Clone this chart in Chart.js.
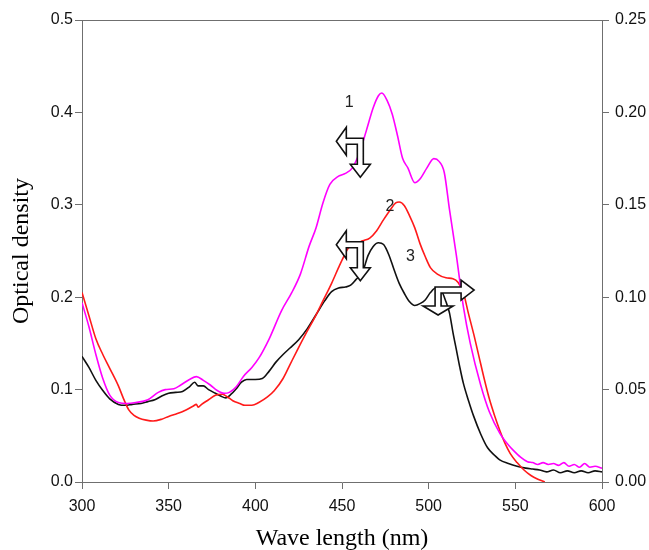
<!DOCTYPE html>
<html>
<head>
<meta charset="utf-8">
<script src="https://cdn.jsdelivr.net/npm/chart.js@4.4.1/dist/chart.umd.min.js"></script>
<style>
  html, body { margin: 0; padding: 0; background: #ffffff; }
  #wrap { width: 649px; height: 550px; }
</style>
</head>
<body>
<div id="wrap"><canvas id="c" width="649" height="550"></canvas></div>
<script>
// ---- data ----
const xTicks = [300, 350, 400, 450, 500, 550, 600];
const yTicksLeft = [0.0, 0.1, 0.2, 0.3, 0.4, 0.5];
const yTicksRight = [0.00, 0.05, 0.10, 0.15, 0.20, 0.25];

const curveLabels = ['1', '2', '3'];

// curve 1 (magenta)
const wl1 = [300,304,308,312,316,321,326,331,338,344,348,353,357,362,366,370,374,378,382,385,389,393,398,402,408,415,421,426,431,435,439,443,448,452,456,460,464,468,471,473,476,479,482,485,488,492,495,499,503,506,509,512,516,520,524,530,535,541,546,549,553,557,560,563,566,569,572,575,578,581,584,587,590,593,596,600];
const od1 = [0.194,0.168,0.138,0.112,0.094,0.086,0.085,0.086,0.089,0.097,0.100,0.101,0.105,0.111,0.114,0.110,0.105,0.099,0.096,0.097,0.103,0.114,0.124,0.134,0.155,0.185,0.205,0.225,0.255,0.275,0.302,0.322,0.331,0.334,0.340,0.356,0.380,0.405,0.418,0.421,0.413,0.398,0.375,0.350,0.340,0.324,0.328,0.340,0.350,0.347,0.335,0.295,0.245,0.190,0.150,0.105,0.076,0.053,0.040,0.034,0.027,0.022,0.021,0.019,0.021,0.019,0.020,0.018,0.021,0.017,0.019,0.016,0.020,0.016,0.017,0.015];

// curve 2 (red)
const wl2 = [300,304,308,312,316,321,324,327,330,333,337,341,346,350,355,360,364,366,367,369,373,377,381,384,387,391,394,398,402,407,411,416,420,424,429,434,439,444,448,451,454,458,462,466,470,474,478,481,483,486,489,492,495,498,501,505,510,514,517,520,523,526,529,532,535,538,541,544,547,551,555,559,563,567];
const od2 = [0.205,0.180,0.155,0.138,0.123,0.104,0.090,0.078,0.072,0.069,0.067,0.066,0.068,0.071,0.074,0.078,0.082,0.084,0.081,0.084,0.089,0.094,0.095,0.092,0.088,0.085,0.083,0.083,0.086,0.092,0.099,0.112,0.127,0.142,0.160,0.177,0.196,0.215,0.232,0.244,0.254,0.258,0.261,0.264,0.272,0.284,0.295,0.302,0.303,0.299,0.288,0.275,0.258,0.244,0.232,0.225,0.221,0.220,0.216,0.205,0.182,0.160,0.136,0.112,0.090,0.072,0.056,0.042,0.031,0.021,0.013,0.007,0.003,0.000];

// curve 3 (black)
const wl3 = [300,304,308,312,316,321,325,329,334,338,342,346,350,354,358,362,365,367,370,373,377,380,383,386,389,392,395,400,404,408,412,416,420,425,430,435,440,444,448,452,455,458,462,465,468,471,474,477,480,483,486,489,492,495,498,501,504,507,510,512,514,516,518,520,523,526,530,534,538,541,546,551,556,560,564,568,572,576,580,584,588,592,596,600];
const od3 = [0.136,0.124,0.110,0.099,0.090,0.084,0.083,0.084,0.085,0.087,0.089,0.093,0.096,0.097,0.098,0.103,0.108,0.104,0.104,0.100,0.096,0.093,0.091,0.095,0.101,0.108,0.111,0.111,0.112,0.120,0.130,0.138,0.145,0.154,0.166,0.181,0.196,0.206,0.210,0.211,0.213,0.219,0.228,0.245,0.255,0.259,0.257,0.246,0.230,0.215,0.204,0.195,0.191,0.193,0.197,0.205,0.210,0.208,0.195,0.183,0.162,0.143,0.124,0.107,0.088,0.071,0.052,0.037,0.029,0.024,0.020,0.017,0.015,0.014,0.013,0.011,0.013,0.010,0.012,0.010,0.012,0.010,0.012,0.011];

// annotation anchors (data coordinates): number labels and arrow corners
const labelPos = [[454.2, 0.4105], [477.7, 0.2984], [489.5, 0.2435]];
const arrowPos = [[462.3, 0.372], [462.3, 0.260], [503.7, 0.211]];

// ---- build ----
const toPts = (xs, ys) => xs.map((x, i) => ({ x: x, y: ys[i] }));
const AX = '#6f6f6f';
const tickFont = { family: "'Liberation Sans', Arial, sans-serif", size: 16 };
const titleFont = { family: "'Liberation Serif', 'Times New Roman', serif", size: 24 };

const arrowShapes = [
  { dir: -1, t: 6, vLen: 26, vHalf: 10, vHead: 13, hLen: 17, hHalf: 14, hHead: 10 },
  { dir: -1, t: 6, vLen: 26, vHalf: 10, vHead: 13, hLen: 17, hHalf: 14, hHead: 10 },
  { dir: 1,  t: 6, vLen: 19, vHalf: 15, vHead: 9,  hLen: 26, hHalf: 10, hHead: 13 }
];

function drawLArrow(ctx, cx, cy, s) {
  const pts = [
    [0, 0], [0, s.vLen], [s.t / 2 - s.vHalf, s.vLen], [s.t / 2, s.vLen + s.vHead],
    [s.t / 2 + s.vHalf, s.vLen], [s.t, s.vLen], [s.t, s.t], [s.hLen, s.t],
    [s.hLen, s.t / 2 + s.hHalf], [s.hLen + s.hHead, s.t / 2], [s.hLen, s.t / 2 - s.hHalf], [s.hLen, 0]
  ];
  ctx.beginPath();
  pts.forEach((p, i) => {
    const x = cx + s.dir * p[0], y = cy + p[1];
    if (i === 0) ctx.moveTo(x, y); else ctx.lineTo(x, y);
  });
  ctx.closePath();
  ctx.fillStyle = '#ffffff';
  ctx.fill();
  ctx.lineWidth = 1.6;
  ctx.lineJoin = 'miter';
  ctx.strokeStyle = '#111111';
  ctx.stroke();
}

const annotPlugin = {
  id: 'annot',
  afterDatasetsDraw(chart) {
    const { ctx, chartArea, scales } = chart;
    ctx.save();
    // top frame line
    ctx.strokeStyle = AX;
    ctx.lineWidth = 1;
    ctx.beginPath();
    ctx.moveTo(chartArea.left, Math.round(chartArea.top) + 0.5);
    ctx.lineTo(chartArea.right, Math.round(chartArea.top) + 0.5);
    ctx.stroke();
    // arrows
    arrowPos.forEach((p, i) => {
      drawLArrow(ctx, scales.x.getPixelForValue(p[0]), scales.y.getPixelForValue(p[1]), arrowShapes[i]);
    });
    // curve numbers
    ctx.fillStyle = '#222222';
    ctx.font = "16px 'Liberation Sans', Arial, sans-serif";
    ctx.textAlign = 'center';
    ctx.textBaseline = 'middle';
    labelPos.forEach((p, i) => {
      ctx.fillText(curveLabels[i], scales.x.getPixelForValue(p[0]), scales.y.getPixelForValue(p[1]));
    });
    ctx.restore();
  }
};

const common = { pointRadius: 0, borderWidth: 1.6, fill: false, cubicInterpolationMode: 'monotone', yAxisID: 'y' };

new Chart(document.getElementById('c'), {
  type: 'line',
  data: {
    datasets: [
      Object.assign({ label: curveLabels[0], data: toPts(wl1, od1), borderColor: '#ff00ff' }, common),
      Object.assign({ label: curveLabels[1], data: toPts(wl2, od2), borderColor: '#ff1a1a' }, common),
      Object.assign({ label: curveLabels[2], data: toPts(wl3, od3), borderColor: '#111111' }, common)
    ]
  },
  options: {
    responsive: false,
    animation: false,
    layout: { padding: { top: 20, left: 0, right: 0, bottom: 0 } },
    plugins: { legend: { display: false }, tooltip: { enabled: false } },
    scales: {
      x: {
        type: 'linear', position: 'bottom', min: xTicks[0], max: xTicks[xTicks.length - 1],
        afterBuildTicks(s) { s.ticks = xTicks.map(v => ({ value: v })); },
        afterFit(s) { s.height = 68; },
        ticks: { font: tickFont, color: '#111', padding: 8, maxRotation: 0, callback: v => String(v) },
        grid: { drawOnChartArea: false, tickLength: 7, color: AX, lineWidth: 1 },
        border: { color: AX, width: 1 },
        title: { display: true, text: 'Wave length (nm)', font: titleFont, color: '#000', padding: { top: 0, bottom: -3 } }
      },
      y: {
        type: 'linear', position: 'left', min: 0, max: 0.5,
        afterBuildTicks(s) { s.ticks = yTicksLeft.map(v => ({ value: v })); },
        afterFit(s) { s.width = 82; },
        ticks: { font: tickFont, color: '#111', padding: 2, callback: v => Number(v).toFixed(1) },
        grid: { drawOnChartArea: false, tickLength: 7, color: AX, lineWidth: 1 },
        border: { color: AX, width: 1 },
        title: { display: true, text: 'Optical density', font: titleFont, color: '#000', padding: { top: 7, bottom: 0 } }
      },
      y2: {
        type: 'linear', position: 'right', min: 0, max: 0.25,
        afterBuildTicks(s) { s.ticks = yTicksRight.map(v => ({ value: v })); },
        afterFit(s) { s.width = 47; },
        ticks: { font: tickFont, color: '#111', padding: 6, callback: v => Number(v).toFixed(2) },
        grid: { drawOnChartArea: false, tickLength: 7, color: AX, lineWidth: 1 },
        border: { color: AX, width: 1 }
      }
    }
  },
  plugins: [annotPlugin]
});
</script>
</body>
</html>
